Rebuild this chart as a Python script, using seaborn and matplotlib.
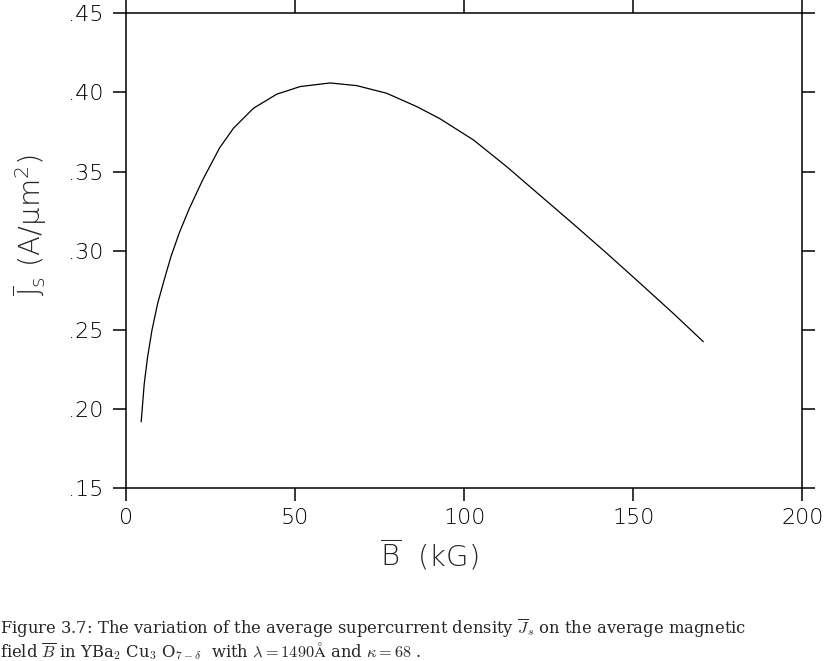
import numpy as np
import pandas as pd
import matplotlib
matplotlib.use("Agg")
import matplotlib.pyplot as plt
import seaborn as sns

# Data
B_vals = [4.4, 5.3, 6.3, 7.6, 9.3, 11.2, 13.2, 15.7, 18.6, 22.6, 27.6, 31.7,
          37.6, 44.5, 51.4, 60.3, 68.2, 77.0, 85.9, 92.8, 102.7, 112.5, 122.4,
          132.2, 142.1, 152.0, 161.8, 170.7]
J_vals = [0.192, 0.216, 0.233, 0.250, 0.267, 0.2816, 0.2963, 0.3115, 0.3265,
          0.3448, 0.3650, 0.3774, 0.3900, 0.3989, 0.4037, 0.4060, 0.4043, 0.3995,
          0.3911, 0.3834, 0.3700, 0.3532, 0.3350, 0.3170, 0.2985, 0.2795, 0.2605,
          0.2426]

x_ticks = [0, 50, 100, 150, 200]
x_ticklabels = ["0", "50", "100", "150", "200"]
y_ticks = [0.15, 0.20, 0.25, 0.30, 0.35, 0.40, 0.45]
y_ticklabels = [".15", ".20", ".25", ".30", ".35", ".40", ".45"]

x_label = r"$\overline{\mathrm{B}}$  (kG)"
y_label = r"$\overline{\mathrm{J}}_{\mathrm{s}}$ (A/μm$^{\mathrm{2}}$)"
caption1 = (r"Figure 3.7: The variation of the average supercurrent density "
            r"$\overline{J}_s$ on the average magnetic")
caption2 = (r"field $\overline{B}$ in YBa$_2$ Cu$_3$ O$_{7-\delta}$  with "
            r"$\lambda = 1490\mathrm{\AA}$ and $\kappa = 68$ .")

df = pd.DataFrame({"B": B_vals, "J": J_vals})

sns.set_style("ticks")
plt.rcParams["font.family"] = ["DejaVu Sans"]
plt.rcParams["mathtext.fontset"] = "custom"
plt.rcParams["mathtext.rm"] = "DejaVu Sans:light"
plt.rcParams["mathtext.it"] = "DejaVu Sans:italic"

fig = plt.figure(figsize=(8.24, 6.61), dpi=100)
ax = fig.add_axes([0.1533, 0.2613, 0.8204, 0.7186])

sns.lineplot(data=df, x="B", y="J", ax=ax, color="black", linewidth=0.9, sort=False)

ax.set_xlim(0, 200)
ax.set_ylim(0.15, 0.45)
ax.set_xticks(x_ticks)
ax.set_xticklabels(x_ticklabels)
ax.set_yticks(y_ticks)
ax.set_yticklabels(y_ticklabels)

for s in ax.spines.values():
    s.set_visible(True)
    s.set_linewidth(1.1)
    s.set_color("black")

ax.tick_params(axis="both", which="major", direction="out", length=9.4, width=1.1,
               color="black", labelsize=16, labelcolor="black",
               top=True, right=True, labeltop=False, labelright=False)
ax.tick_params(axis="y", pad=7)
ax.tick_params(axis="x", pad=5)
for lab in ax.get_xticklabels() + ax.get_yticklabels():
    lab.set_fontweight("light")

ax.set_xlabel(x_label, fontsize=21, fontweight="light", va="center")
ax.xaxis.set_label_coords(0.449, -0.140)
ax.set_ylabel(y_label, fontsize=21, fontweight="light", va="center")
ax.yaxis.set_label_coords(-0.142, 0.554)

fig.text(0.0, 1 - 628 / 661, caption1, fontsize=11.8, family="DejaVu Serif",
         math_fontfamily="cm", ha="left", va="center")
fig.text(0.0, 1 - 651 / 661, caption2, fontsize=11.8, family="DejaVu Serif",
         math_fontfamily="cm", ha="left", va="center")

fig.savefig("out.png", dpi=100)
